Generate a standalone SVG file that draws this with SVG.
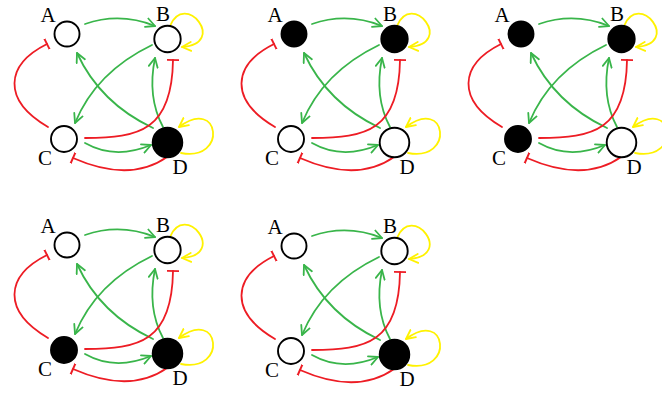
<svg xmlns="http://www.w3.org/2000/svg" width="662" height="394" viewBox="0 0 662 394">
  <style>
    .bg { fill: #ffffff; }
    .e { fill: none; stroke-width: 1.8; stroke-linecap: round; }
    .act { stroke: #39B54A; marker-end: url(#arrG); }
    .inh { stroke: #ED1C24; marker-end: url(#teeR); }
    .self { stroke: #FFF200; marker-end: url(#arrY); }
    .node circle { stroke: #000; stroke-width: 1.9; }
    .off circle { fill: #fff; }
    .on circle { fill: #000; }
    .node text { font-family: "Liberation Serif", "Times New Roman", serif; font-size: 21px; fill: #000; text-anchor: middle; }
  </style>
  <defs>
    <marker id="arrG" viewBox="0 0 11 11" refX="10" refY="5.5" markerWidth="11" markerHeight="11" markerUnits="userSpaceOnUse" orient="auto">
      <path d="M1,1 L10,5.5 L1,10" fill="none" stroke="#39B54A" stroke-width="1.8" stroke-linecap="round" stroke-linejoin="round"/>
    </marker>
    <marker id="arrY" viewBox="0 0 11 11" refX="10" refY="5.5" markerWidth="11" markerHeight="11" markerUnits="userSpaceOnUse" orient="auto">
      <path d="M1,1 L10,5.5 L1,10" fill="none" stroke="#FFF200" stroke-width="1.8" stroke-linecap="round" stroke-linejoin="round"/>
    </marker>
    <marker id="teeR" viewBox="0 0 4 12" refX="2" refY="6" markerWidth="4" markerHeight="12" markerUnits="userSpaceOnUse" orient="auto">
      <path d="M2,0 V12" stroke="#ED1C24" stroke-width="1.9"/>
    </marker>
  </defs>
  <rect class="bg" x="0" y="0" width="662" height="394"/>

  <!-- State 1: D on -->
  <g id="panel1" transform="translate(0,0)">
    <g id="p1-edges">
      <path class="e act" d="M85,24 Q120,12 155,26"/>
      <path class="e self" d="M170,26 C185,-10 228,44 182,47"/>
      <path class="e act" d="M152,45 Q96,72 75,123"/>
      <path class="e act" d="M153,128 Q100,103 77,53"/>
      <path class="e act" d="M163,127 Q147,97 155,58"/>
      <path class="e inh" d="M85,138 C140,138 172,130 173,60"/>
      <path class="e act" d="M85,143 Q115,160 151,145"/>
      <path class="e inh" d="M167,157 Q130,183 73,158"/>
      <path class="e inh" d="M48,127 C2,100 5,65 47,44"/>
      <path class="e self" d="M181,153 C228,162 220,96 179,127"/>
    </g>
    <g id="p1-A" class="node off"><circle cx="67" cy="34" r="12.5"/><text x="48" y="22">A</text></g>
    <g id="p1-B" class="node off"><circle cx="167.5" cy="39" r="13.2"/><text x="163" y="21">B</text></g>
    <g id="p1-C" class="node off"><circle cx="64" cy="139" r="13"/><text x="45" y="165">C</text></g>
    <g id="p1-D" class="node on"><circle cx="167.5" cy="142.5" r="14.8"/><text x="180" y="174">D</text></g>
  </g>

  <!-- State 2: A, B on -->
  <g id="panel2" transform="translate(227,0)">
    <g id="p2-edges">
      <path class="e act" d="M85,24 Q120,12 155,26"/>
      <path class="e self" d="M170,26 C185,-10 228,44 182,47"/>
      <path class="e act" d="M152,45 Q96,72 75,123"/>
      <path class="e act" d="M153,128 Q100,103 77,53"/>
      <path class="e act" d="M163,127 Q147,97 155,58"/>
      <path class="e inh" d="M85,138 C140,138 172,130 173,60"/>
      <path class="e act" d="M85,143 Q115,160 151,145"/>
      <path class="e inh" d="M167,157 Q130,183 73,158"/>
      <path class="e inh" d="M48,127 C2,100 5,65 47,44"/>
      <path class="e self" d="M181,153 C228,162 220,96 179,127"/>
    </g>
    <g id="p2-A" class="node on"><circle cx="67" cy="34" r="12.5"/><text x="48" y="22">A</text></g>
    <g id="p2-B" class="node on"><circle cx="167.5" cy="39" r="13.2"/><text x="163" y="21">B</text></g>
    <g id="p2-C" class="node off"><circle cx="64" cy="139" r="13"/><text x="45" y="165">C</text></g>
    <g id="p2-D" class="node off"><circle cx="167.5" cy="142.5" r="14.8"/><text x="180" y="174">D</text></g>
  </g>

  <!-- State 3: A, B, C on -->
  <g id="panel3" transform="translate(454,0)">
    <g id="p3-edges">
      <path class="e act" d="M85,24 Q120,12 155,26"/>
      <path class="e self" d="M170,26 C185,-10 228,44 182,47"/>
      <path class="e act" d="M152,45 Q96,72 75,123"/>
      <path class="e act" d="M153,128 Q100,103 77,53"/>
      <path class="e act" d="M163,127 Q147,97 155,58"/>
      <path class="e inh" d="M85,138 C140,138 172,130 173,60"/>
      <path class="e act" d="M85,143 Q115,160 151,145"/>
      <path class="e inh" d="M167,157 Q130,183 73,158"/>
      <path class="e inh" d="M48,127 C2,100 5,65 47,44"/>
      <path class="e self" d="M181,153 C228,162 220,96 179,127"/>
    </g>
    <g id="p3-A" class="node on"><circle cx="67" cy="34" r="12.5"/><text x="48" y="22">A</text></g>
    <g id="p3-B" class="node on"><circle cx="167.5" cy="39" r="13.2"/><text x="163" y="21">B</text></g>
    <g id="p3-C" class="node on"><circle cx="64" cy="139" r="13"/><text x="45" y="165">C</text></g>
    <g id="p3-D" class="node off"><circle cx="167.5" cy="142.5" r="14.8"/><text x="180" y="174">D</text></g>
  </g>

  <!-- State 4: C, D on -->
  <g id="panel4" transform="translate(0,211)">
    <g id="p4-edges">
      <path class="e act" d="M85,24 Q120,12 155,26"/>
      <path class="e self" d="M170,26 C185,-10 228,44 182,47"/>
      <path class="e act" d="M152,45 Q96,72 75,123"/>
      <path class="e act" d="M153,128 Q100,103 77,53"/>
      <path class="e act" d="M163,127 Q147,97 155,58"/>
      <path class="e inh" d="M85,138 C140,138 172,130 173,60"/>
      <path class="e act" d="M85,143 Q115,160 151,145"/>
      <path class="e inh" d="M167,157 Q130,183 73,158"/>
      <path class="e inh" d="M48,127 C2,100 5,65 47,44"/>
      <path class="e self" d="M181,153 C228,162 220,96 179,127"/>
    </g>
    <g id="p4-A" class="node off"><circle cx="67" cy="34" r="12.5"/><text x="48" y="22">A</text></g>
    <g id="p4-B" class="node off"><circle cx="167.5" cy="39" r="13.2"/><text x="163" y="21">B</text></g>
    <g id="p4-C" class="node on"><circle cx="64" cy="139" r="13"/><text x="45" y="165">C</text></g>
    <g id="p4-D" class="node on"><circle cx="167.5" cy="142.5" r="14.8"/><text x="180" y="174">D</text></g>
  </g>

  <!-- State 5: D on -->
  <g id="panel5" transform="translate(227,212)">
    <g id="p5-edges">
      <path class="e act" d="M85,24 Q120,12 155,26"/>
      <path class="e self" d="M170,26 C185,-10 228,44 182,47"/>
      <path class="e act" d="M152,45 Q96,72 75,123"/>
      <path class="e act" d="M153,128 Q100,103 77,53"/>
      <path class="e act" d="M163,127 Q147,97 155,58"/>
      <path class="e inh" d="M85,138 C140,138 172,130 173,60"/>
      <path class="e act" d="M85,143 Q115,160 151,145"/>
      <path class="e inh" d="M167,157 Q130,183 73,158"/>
      <path class="e inh" d="M48,127 C2,100 5,65 47,44"/>
      <path class="e self" d="M181,153 C228,162 220,96 179,127"/>
    </g>
    <g id="p5-A" class="node off"><circle cx="67" cy="34" r="12.5"/><text x="48" y="22">A</text></g>
    <g id="p5-B" class="node off"><circle cx="167.5" cy="39" r="13.2"/><text x="163" y="21">B</text></g>
    <g id="p5-C" class="node off"><circle cx="64" cy="139" r="13"/><text x="45" y="165">C</text></g>
    <g id="p5-D" class="node on"><circle cx="167.5" cy="142.5" r="14.8"/><text x="180" y="174">D</text></g>
  </g>
</svg>
